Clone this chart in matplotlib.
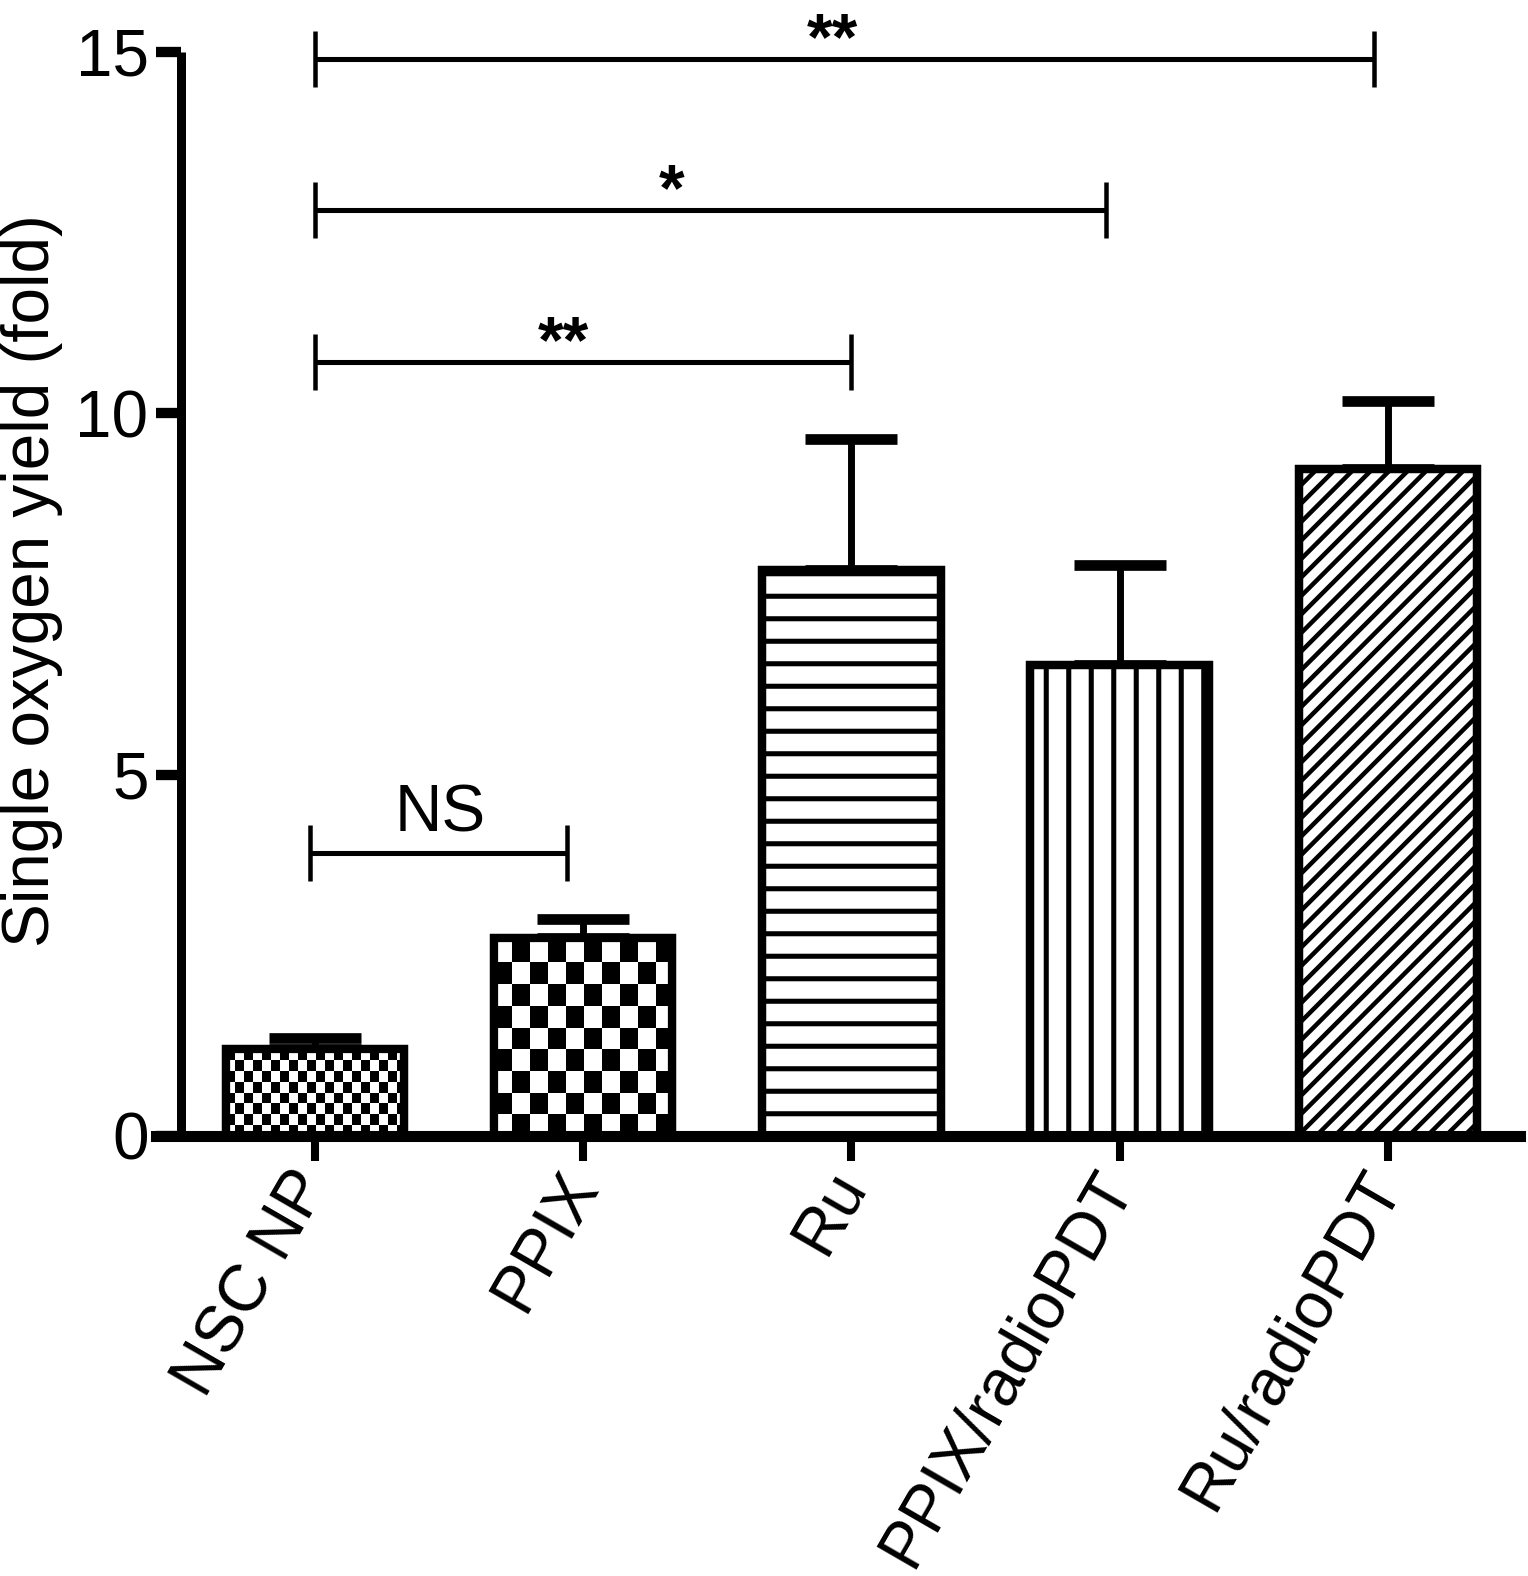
import matplotlib
matplotlib.use('Agg')
import matplotlib.pyplot as plt
import numpy as np
from matplotlib.colors import ListedColormap

plt.rcParams['font.family'] = ['Liberation Sans', 'DejaVu Sans']
plt.rcParams['hatch.linewidth'] = 2.7
plt.rcParams['hatch.color'] = 'black'

# ---------------- data ----------------
categories = ['NSC NP', 'PPIX', 'Ru', 'PPIX/radioPDT', 'Ru/radioPDT']
means = [1.20, 2.74, 7.83, 6.52, 9.23]
errors = [0.16, 0.26, 1.82, 1.38, 0.94]
patterns = ['checker_fine', 'checker_coarse', 'hlines', 'vlines', 'diag']

sig_x1 = [-0.02, 0.0, 0.0, 0.0]
sig_x2 = [0.94, 2.0, 2.95, 3.95]
sig_y = [3.91, 10.71, 12.81, 14.90]
sig_text = ['NS', '**', '*', '**']
sig_text_x = [0.466, 0.928, 1.331, 1.928]

yticks = [0, 5, 10, 15]

# ---------------- figure ----------------
DPI = 135
W, H = 1528, 1576
fig = plt.figure(figsize=(W / DPI, H / DPI), dpi=DPI)
ax_l, ax_r, ax_t, ax_b = 156, 1520, 52, 1136
ax = fig.add_axes([ax_l / W, 1 - ax_b / H, (ax_r - ax_l) / W, (ax_b - ax_t) / H])
XMIN, XMAX = -0.593, 4.493
YMIN, YMAX = 0, 15

px_x = (ax_r - ax_l) / (XMAX - XMIN)   # pixels per x unit
px_y = (ax_b - ax_t) / (YMAX - YMIN)   # pixels per y unit

x = np.arange(len(categories))
bw = 0.665
edge_lw = 4.4

hatch_map = {'hlines': '-', 'vlines': '|'}
bars = ax.bar(x, means, width=bw, color='white', edgecolor='black',
              linewidth=edge_lw, zorder=2)
for b, p in zip(bars, patterns):
    b.set_hatch(hatch_map.get(p, ''))

cmap_bw = ListedColormap(['white', 'black'])
for i, p in enumerate(patterns):
    left = x[i] - bw / 2
    right = x[i] + bw / 2
    top = means[i]
    if p.startswith('checker'):
        cw_px, ch_px = (9.0, 10.85) if p == 'checker_fine' else (18.0, 21.7)
        cw, ch = cw_px / px_x, ch_px / px_y
        xs = np.arange(left, right + cw, cw)
        ys = np.arange(0, top + ch, ch)
        C = (np.add.outer(np.arange(len(ys) - 1), np.arange(len(xs) - 1)) % 2).astype(float)
        mesh = ax.pcolormesh(xs, ys, C, cmap=cmap_bw, shading='flat', vmin=0, vmax=1,
                             zorder=2.5, antialiased=False)
        mesh.set_clip_path(bars[i])
    elif p == 'diag':
        sp = 18.5 / px_x
        slope = px_x / px_y
        dxt = top / slope
        for s in np.arange(left - dxt, right + sp, sp):
            ln, = ax.plot([s, s + dxt], [0, top], color='black', lw=2.4,
                          zorder=2.5, solid_capstyle='butt')
            ln.set_clip_path(bars[i])

# outline on top
ax.bar(x, means, width=bw, fill=False, edgecolor='black', linewidth=edge_lw, zorder=3)

# error bars (upper only)
ax.errorbar(x, means, yerr=[np.zeros(len(means)), errors], fmt='none', ecolor='black',
            elinewidth=3.7, capsize=24.5, capthick=5.7, zorder=1.5)

# significance brackets
tick_h = 28 / px_y
for x1, x2, y, t, tx in zip(sig_x1, sig_x2, sig_y, sig_text, sig_text_x):
    ax.plot([x1, x2], [y, y], color='black', lw=2.7, clip_on=False, solid_capstyle='butt', zorder=4)
    for xx in (x1, x2):
        ax.plot([xx, xx], [y - tick_h, y + tick_h], color='black', lw=2.4,
                clip_on=False, solid_capstyle='butt', zorder=4)
    if t == 'NS':
        ax.text(tx, y + 0.30, t, ha='center', va='baseline', fontsize=35, clip_on=False)
    else:
        ax.text(tx, y, t, ha='center', va='baseline', fontsize=35, fontweight='bold', clip_on=False)

ax.set_xlim(XMIN, XMAX)
ax.set_ylim(YMIN, YMAX)

for s in ('top', 'right'):
    ax.spines[s].set_visible(False)
ax.spines['left'].set_position(('data', -0.5))
ax.spines['left'].set_bounds(0, 15)
ax.spines['left'].set_linewidth(4.8)
ax.spines['bottom'].set_linewidth(5.9)
ax.spines['left'].set_capstyle('butt')

ax.set_yticks(yticks)
ax.set_yticklabels([str(v) for v in yticks])
ax.tick_params(axis='y', length=13.3, width=5.5, labelsize=35, pad=4, direction='out')
ax.set_xticks(x)
ax.set_xticklabels(categories, rotation=60, ha='right', va='center', rotation_mode='anchor')
ax.tick_params(axis='x', length=13.3, width=4.3, labelsize=35, pad=8, direction='out')

ax.set_ylabel('Single oxygen yield (fold)', fontsize=35)
ax.yaxis.set_label_coords(-0.068, 0.512)

fig.savefig('out.png', dpi=DPI)
